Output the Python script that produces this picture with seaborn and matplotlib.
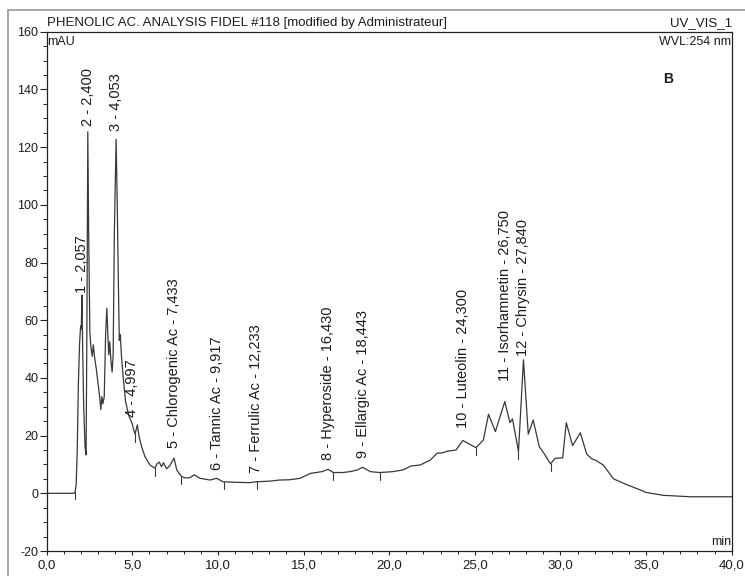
import numpy as np
import pandas as pd
import matplotlib
matplotlib.use("Agg")
import matplotlib.pyplot as plt
import seaborn as sns
from matplotlib.lines import Line2D
from matplotlib.ticker import MultipleLocator, FuncFormatter

# Chromatogram trace: retention time (min) and absorbance (mAU)
time = [0.00, 1.60, 1.66, 1.72, 1.78, 1.85, 1.92, 1.98, 2.02, 2.057,
        2.10, 2.16, 2.24, 2.30, 2.35, 2.400, 2.45, 2.52, 2.58, 2.66,
        2.72, 2.80, 2.90, 3.01, 3.10, 3.16, 3.22, 3.28, 3.36, 3.44,
        3.51, 3.57, 3.62, 3.68, 3.75, 3.82, 3.88, 3.95, 4.053, 4.12,
        4.18, 4.24, 4.30, 4.36, 4.47, 4.60, 4.79, 4.997, 5.08, 5.16,
        5.29, 5.40, 5.55, 5.74, 6.03, 6.32, 6.45, 6.58, 6.70, 6.82,
        7.00, 7.18, 7.433, 7.60, 7.88, 8.10, 8.35, 8.62, 8.95, 9.54,
        9.917, 10.30, 11.10, 11.87, 12.233, 13.0, 13.6, 14.2, 14.8, 15.4,
        16.06, 16.43, 16.74, 17.30, 17.70, 18.10, 18.443, 18.90, 19.46, 20.20,
        20.80, 21.30, 21.80, 22.40, 22.80, 23.10, 23.40, 23.90, 24.30, 24.70,
        25.07, 25.50, 25.80, 26.20, 26.75, 27.05, 27.20, 27.55, 27.84, 28.12,
        28.41, 28.76, 29.10, 29.42, 29.68, 30.13, 30.34, 30.71, 31.16, 31.53,
        31.82, 32.10, 32.50, 33.10, 33.87, 34.65, 35.00, 36.00, 37.60, 40.00]
signal = [0.0, 0.0, 0.5, 3.0, 14.0, 38.0, 52.0, 58.0, 57.0, 68.7,
          50.0, 30.0, 16.0, 13.3, 60.0, 125.3, 90.0, 56.0, 50.8, 47.5,
          51.5, 47.0, 43.0, 37.5, 33.0, 29.0, 33.5, 31.0, 33.5, 55.0,
          64.1, 55.0, 48.0, 52.5, 46.0, 42.0, 48.0, 90.0, 122.7, 100.0,
          75.0, 53.0, 55.0, 48.0, 40.0, 32.0, 27.0, 24.0, 22.0, 20.5,
          23.7, 19.5, 16.0, 12.7, 9.8, 8.7, 10.3, 10.8, 9.2, 10.6,
          8.5, 9.5, 12.2, 8.0, 5.8, 5.3, 5.4, 6.4, 5.2, 4.6,
          5.2, 4.0, 3.8, 3.7, 4.0, 4.2, 4.6, 4.7, 5.2, 6.9,
          7.5, 8.3, 7.2, 7.2, 7.5, 8.0, 9.0, 7.5, 7.2, 7.5,
          8.1, 9.5, 9.8, 11.5, 13.9, 14.0, 14.6, 15.0, 18.3, 17.0,
          15.8, 18.5, 27.4, 21.4, 31.8, 24.5, 25.8, 14.5, 46.3, 20.5,
          25.4, 16.2, 13.3, 10.2, 12.1, 12.3, 24.5, 16.5, 21.0, 13.6,
          12.0, 11.3, 9.8, 5.0, 3.0, 1.2, 0.3, -0.7, -1.2, -1.2]

# Integrated peaks
peak_rt = [2.057, 2.400, 4.053, 4.997, 7.433, 9.917, 12.233,
           16.430, 18.443, 24.300, 26.750, 27.840]
peak_name = ["", "", "", "", "Chlorogenic Ac", "Tannic Ac", "Ferrulic Ac",
             "Hyperoside", "Ellargic Ac", "Luteolin", "Isorhamnetin", "Chrysin"]

# Peak start/end delimiters (min)
delimiter_rt = [1.66, 5.16, 6.32, 7.86, 10.33, 12.26, 16.74, 19.46,
                25.07, 27.55, 29.42]

x_ticks = [0, 5, 10, 15, 20, 25, 30, 35, 40]
y_ticks = [-20, 0, 20, 40, 60, 80, 100, 120, 140, 160]

# label lift above each apex, in points
label_lift = [1.5, 4.5, 6, 5, 7.5, 6, 6.5, 6.5, 6.5, 9, 14.5, 2.5]

sns.set_theme(style="ticks")
plt.rcParams["font.family"] = ["Liberation Sans", "DejaVu Sans"]
plt.rcParams["axes.unicode_minus"] = False

ink = "#1c1c1c"
fs = 9
fs_peak = 10.5

fig = plt.figure(figsize=(7.45, 5.76), dpi=100)
fig.patch.set_facecolor("white")
ax = fig.add_axes([46.7 / 745, 1 - 551 / 576, (731.7 - 46.7) / 745, (551 - 31.7) / 576])
ax.set_facecolor("white")

df = pd.DataFrame({"time": time, "signal": signal})
sns.lineplot(data=df, x="time", y="signal", ax=ax, sort=False, estimator=None,
             color="#383838", linewidth=0.9)

ax.set_xlim(0, 40)
ax.set_ylim(-20, 160)
ax.set_xticks(x_ticks)
ax.set_yticks(y_ticks)
ax.xaxis.set_minor_locator(MultipleLocator(1))
ax.yaxis.set_minor_locator(MultipleLocator(5))
ax.xaxis.set_major_formatter(FuncFormatter(lambda v, p: f"{v:.1f}".replace(".", ",")))
ax.yaxis.set_major_formatter(FuncFormatter(lambda v, p: f"{int(v)}"))
ax.set_xlabel("")
ax.set_ylabel("")

for s in ax.spines.values():
    s.set_visible(True)
    s.set_color("#222222")
    s.set_linewidth(0.9)

ax.tick_params(axis="y", which="major", direction="out", length=5, width=0.8,
               color="#222222", labelsize=fs, labelcolor=ink, pad=1)
ax.tick_params(axis="y", which="minor", direction="out", length=2.8, width=0.7,
               color="#222222")
ax.tick_params(axis="x", which="major", direction="out", length=3, width=0.8,
               color="#222222", labelsize=fs + 0.5, labelcolor=ink, pad=3)
ax.tick_params(axis="x", which="minor", direction="out", length=2.2, width=0.7,
               color="#222222")

# peak delimiters
for t in delimiter_rt:
    yv = np.interp(t, time, signal)
    ax.plot([t, t], [yv, yv - 2.6], color="#383838", linewidth=0.8)

# peak labels
for i, (rt, name) in enumerate(zip(peak_rt, peak_name), start=1):
    rt_txt = f"{rt:.3f}".replace(".", ",")
    label = f"{i} - {name} - {rt_txt}" if name else f"{i} - {rt_txt}"
    apex = np.interp(rt, time, signal)
    ax.annotate(label, xy=(rt, apex), xytext=(0, label_lift[i - 1]),
                textcoords="offset points", rotation=90, ha="center",
                va="bottom", fontsize=fs_peak, color=ink)

# header and axis captions
ax.text(0.0, 1.006, "PHENOLIC AC. ANALYSIS FIDEL #118 [modified by Administrateur]",
        transform=ax.transAxes, ha="left", va="bottom", fontsize=fs + 0.5, color=ink)
ax.text(1.0, 1.006, "UV_VIS_1", transform=ax.transAxes, ha="right", va="bottom",
        fontsize=fs + 0.5, color=ink)
ax.text(0.001, 0.992, "mAU", transform=ax.transAxes, ha="left", va="top",
        fontsize=fs, color=ink)
ax.text(0.999, 0.992, "WVL:254 nm", transform=ax.transAxes, ha="right", va="top",
        fontsize=fs, color=ink)
ax.text(0.999, 0.006, "min", transform=ax.transAxes, ha="right", va="bottom",
        fontsize=fs, color=ink)
ax.text(668 / 745, 1 - 79 / 576, "B", transform=fig.transFigure, ha="center",
        va="center", fontsize=10, fontweight="bold", color=ink)

# printout border
fig.add_artist(Line2D([8 / 745, 1.0], [1 - 10 / 576, 1 - 10 / 576],
                      transform=fig.transFigure, color="#9a9a9a", linewidth=1.2))
fig.add_artist(Line2D([8 / 745, 8 / 745], [0.0, 1 - 10 / 576],
                      transform=fig.transFigure, color="#9a9a9a", linewidth=1.2))

fig.savefig("out.png", dpi=100, facecolor="white")
